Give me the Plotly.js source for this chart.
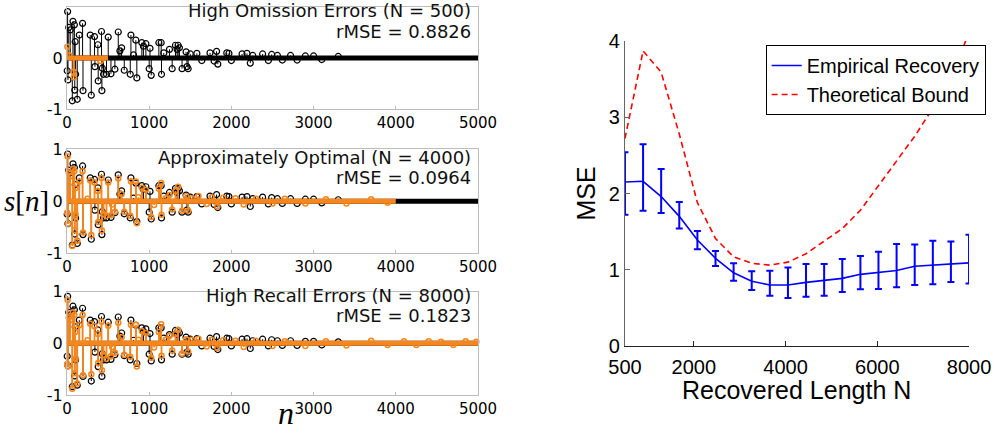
<!DOCTYPE html>
<html>
<head>
<meta charset="utf-8">
<script src="https://cdn.plot.ly/plotly-3.0.1.min.js"></script>
<style>html,body{margin:0;padding:0;background:#fff;}#chart{width:995px;height:433px;}</style>
</head>
<body>
<div id="chart"></div>
<script>
// ---------- Left panels: true sparse signal (black) ----------
const trueN = [3, 8, 12, 22, 40, 65, 73, 90, 95, 100, 105, 125, 150, 190, 195, 283, 296, 335, 340, 376,
  380, 420, 425, 430, 445, 481, 502, 535, 583, 624, 644, 665, 697, 770, 778, 810, 838, 850, 911, 930,
  960, 1000, 1010, 1025, 1118, 1146, 1150, 1178, 1247, 1280, 1320, 1340, 1352, 1368, 1400, 1449, 1460, 1474, 1500, 1580,
  1640, 1740, 1790, 1820, 1835, 1944, 1970, 2000, 2130, 2190, 2230, 2260, 2380, 2450, 2490, 2560, 2620, 2720, 2800, 2900,
  3000, 3100, 3300];
const trueV = [-0.25, 0.91, -0.43, 0.60, 0.55, -0.84, 0.72, 0.65, -0.63, 0.32, -0.32, -0.81, 0.45, 0.68, -0.64, 0.45, -0.73, 0.42, -0.17, 0.26,
  -0.45, 0.52, -0.64, -0.20, -0.32, -0.32, 0.41, -0.31, -0.22, 0.51, 0.14, 0.20, -0.24, -0.32, 0.45, 0.06, 0.35, -0.39, 0.30, 0.23,
  0.28, -0.21, 0.19, -0.34, 0.30, 0.30, -0.32, 0.10, 0.17, -0.21, 0.25, 0.17, 0.25, 0.20, -0.21, 0.12, -0.17, -0.21, 0.08, 0.09,
  -0.05, 0.10, -0.06, 0.13, -0.12, 0.10, 0.09, -0.05, 0.08, 0.09, -0.10, 0.05, 0.08, -0.05, 0.07, 0.05, -0.04, 0.05, -0.04, 0.04,
  0.04, -0.03, 0.03];

// Recovered signals (orange)
const rec1N = [5, 30, 80, 84, 411];
const rec1V = [0.22, 0.05, -0.27, -0.38, -0.06];

const rec2N = [3, 8, 12, 22, 40, 65, 73, 90, 95, 100, 105, 125, 150, 190, 195, 250, 283, 296, 335, 376,
  380, 420, 425, 445, 481, 502, 535, 550, 583, 624, 665, 697, 770, 778, 838, 850, 870, 911, 960, 1025,
  1060, 1118, 1146, 1150, 1200, 1247, 1280, 1320, 1352, 1400, 1449, 1474, 1520, 1600, 1700, 1760, 1830, 1900, 2050, 2150,
  2300, 2500, 2650, 2900, 3150, 3400, 3700, 3900];
const rec2V = [-0.22, 0.86, -0.43, 0.55, 0.48, -0.86, 0.62, 0.58, -0.55, 0.25, -0.25, -0.76, 0.38, 0.58, -0.60, 0.05, 0.40, -0.65, 0.36, 0.20,
  -0.40, 0.45, -0.56, -0.25, -0.28, 0.36, -0.27, -0.06, -0.20, 0.44, 0.14, -0.20, -0.28, 0.38, 0.38, -0.42, 0.08, 0.26, 0.22, -0.30,
  -0.07, 0.24, 0.35, -0.26, 0.06, 0.12, -0.16, 0.20, 0.28, -0.18, 0.10, -0.18, 0.06, 0.10, -0.05, 0.08, -0.10, 0.07, 0.06, -0.06,
  0.05, -0.04, 0.05, -0.04, 0.04, -0.04, 0.04, -0.03];

const rec3N = [3, 8, 12, 22, 40, 65, 73, 90, 95, 100, 105, 125, 150, 190, 195, 250, 283, 296, 335, 376,
  380, 420, 425, 445, 481, 502, 535, 550, 583, 624, 665, 697, 770, 778, 838, 850, 870, 911, 960, 1025,
  1060, 1118, 1146, 1150, 1200, 1247, 1280, 1320, 1352, 1400, 1449, 1474, 1520, 1600, 1700, 1760, 1830, 1900, 2050, 2150,
  2300, 2500, 2650, 2900, 3150, 3400, 3700, 3900, 4100, 4250, 4400, 4550, 4700, 4850, 4980];
const rec3V = [-0.40, 0.84, -0.45, 0.50, 0.45, -0.88, 0.60, 0.55, -0.58, 0.22, -0.30, -0.78, 0.35, 0.55, -0.62, 0.06, 0.38, -0.60, 0.33, 0.18,
  -0.38, 0.42, -0.52, -0.22, -0.30, 0.34, -0.25, -0.07, -0.18, 0.40, 0.12, -0.22, -0.26, 0.36, 0.36, -0.45, 0.07, 0.24, 0.20, -0.28,
  -0.08, 0.22, 0.37, -0.24, 0.07, 0.14, -0.14, 0.18, 0.26, -0.20, 0.08, -0.16, 0.07, 0.09, -0.06, 0.07, -0.09, 0.06, 0.05, -0.07,
  0.05, -0.05, 0.04, -0.05, 0.04, -0.04, 0.05, -0.03, 0.04, -0.03, 0.04, 0.03, -0.03, 0.04, 0.03];

// Lengths: true signal length shown, and recovered lengths N
const signalLength = 5000;
const recoveredLengths = [500, 4000, 8000];
const panelTitles = ["High Omission Errors (N = 500)", "Approximately Optimal (N = 4000)", "High Recall Errors (N = 8000)"];
const panelRMSE = ["rMSE = 0.8826", "rMSE = 0.0964", "rMSE = 0.1823"];
const nTicks = [0, 1000, 2000, 3000, 4000, 5000];

// ---------- Right panel ----------
const lengthsN = [500, 895, 1289, 1684, 2079, 2474, 2868, 3263, 3658, 4053, 4447, 4842, 5237, 5632, 6026, 6421, 6816, 7211, 7605, 8000];
const empMean = [2.15, 2.16, 1.96, 1.70, 1.39, 1.15, 0.96, 0.85, 0.80, 0.80, 0.835, 0.857, 0.887, 0.94, 0.966, 0.99, 1.045, 1.058, 1.07, 1.09];
const empTop  = [2.54, 2.645, 2.32, 1.89, 1.508, 1.246, 1.085, 0.98, 0.988, 1.03, 1.075, 1.075, 1.14, 1.18, 1.237, 1.337, 1.33, 1.38, 1.37, 1.46];
const empBot  = [1.72, 1.775, 1.745, 1.54, 1.27, 1.05, 0.857, 0.734, 0.66, 0.63, 0.647, 0.66, 0.708, 0.743, 0.747, 0.77, 0.80, 0.81, 0.84, 0.82];
const theoBound = [2.72, 3.87, 3.59, 2.78, 1.88, 1.41, 1.17, 1.085, 1.06, 1.10, 1.21, 1.37, 1.54, 1.78, 2.10, 2.42, 2.75, 3.12, 3.55, 4.10];
const rightTicksX = [500, 2000, 4000, 6000, 8000];

// ---------- Build ----------
const BLACK = '#000000';
const ORANGE = '#f7861c';

function stemXY(ns, vs) {
  const x = [], y = [];
  for (let i = 0; i < ns.length; i++) { x.push(ns[i], ns[i], null); y.push(0, vs[i], null); }
  return {x, y};
}

const traces = [];
const recSets = [[rec1N, rec1V], [rec2N, rec2V], [rec3N, rec3V]];
for (let p = 0; p < 3; p++) {
  const xa = p === 0 ? 'x' : 'x' + (p + 1);
  const ya = p === 0 ? 'y' : 'y' + (p + 1);
  const s = stemXY(trueN, trueV);
  traces.push({x: s.x, y: s.y, xaxis: xa, yaxis: ya, mode: 'lines', line: {color: BLACK, width: 1}, showlegend: false, hoverinfo: 'skip'});
  traces.push({x: [0, signalLength], y: [0, 0], xaxis: xa, yaxis: ya, mode: 'lines', line: {color: BLACK, width: 5}, showlegend: false, hoverinfo: 'skip'});
  traces.push({x: trueN, y: trueV, xaxis: xa, yaxis: ya, mode: 'markers', cliponaxis: false,
    marker: {symbol: 'circle-open', size: 6, color: BLACK, line: {width: 1.2}}, showlegend: false});
  const rN = recSets[p][0], rV = recSets[p][1];
  const r = stemXY(rN, rV);
  const recEnd = Math.min(recoveredLengths[p], signalLength);
  traces.push({x: [0, recEnd], y: [0, 0], xaxis: xa, yaxis: ya, mode: 'lines', line: {color: ORANGE, width: 5}, showlegend: false, hoverinfo: 'skip'});
  traces.push({x: r.x, y: r.y, xaxis: xa, yaxis: ya, mode: 'lines', line: {color: ORANGE, width: 1.8}, showlegend: false, hoverinfo: 'skip'});
  traces.push({x: rN, y: rV, xaxis: xa, yaxis: ya, mode: 'markers', cliponaxis: false,
    marker: {symbol: 'circle-open', size: 5, color: ORANGE, line: {width: 1.5}}, showlegend: false});
}

const errPlus = empTop.map((t, i) => t - empMean[i]);
const errMinus = empBot.map((b, i) => empMean[i] - b);
traces.push({x: lengthsN, y: empMean, xaxis: 'x4', yaxis: 'y4', mode: 'lines', name: 'Empirical Recovery',
  line: {color: '#0000ff', width: 1.6},
  error_y: {type: 'data', symmetric: false, array: errPlus, arrayminus: errMinus, color: '#0000ff', thickness: 2, width: 3.5}});
traces.push({x: lengthsN, y: theoBound, xaxis: 'x4', yaxis: 'y4', mode: 'lines', name: 'Theoretical Bound',
  line: {color: '#ff0000', width: 1.6, dash: '6px,4px'}});

const leftFont = {family: 'DejaVu Sans', size: 15, color: '#000'};
function leftX(anchor) {
  return {domain: [0.0673, 0.4804], anchor: anchor, range: [0, signalLength], tickvals: nTicks,
    showline: true, mirror: true, linecolor: '#bdbdbd', linewidth: 1, ticks: 'inside', ticklen: 3, tickcolor: '#bdbdbd',
    showgrid: false, zeroline: false, tickfont: leftFont};
}
function leftY(dom, anchor) {
  return {domain: dom, anchor: anchor, range: [-1, 1], tickvals: [-1, 0, 1], ticktext: ['-1', '0', '1'],
    showline: true, mirror: true, linecolor: '#bdbdbd', linewidth: 1, ticks: '', showgrid: false, zeroline: false,
    tickfont: {family: 'DejaVu Sans', size: 16, color: '#000'}};
}
const rightFont = {family: 'Liberation Sans', size: 20, color: '#000'};

const annotations = [];
const lineOffsets = [[0.9746, 0.9284], [0.6374, 0.5912], [0.3164, 0.2725]];
for (let p = 0; p < 3; p++) {
  annotations.push({xref: 'paper', yref: 'paper', x: 0.4754, y: lineOffsets[p][0], xanchor: 'right', yanchor: 'middle',
    text: panelTitles[p], showarrow: false, font: {family: 'DejaVu Sans', size: 18, color: '#111'}});
  annotations.push({xref: 'paper', yref: 'paper', x: 0.4754, y: lineOffsets[p][1], xanchor: 'right', yanchor: 'middle',
    text: panelRMSE[p], showarrow: false, font: {family: 'DejaVu Sans', size: 18, color: '#111'}});
}
annotations.push({xref: 'paper', yref: 'paper', x: 0.027, y: 0.535, xanchor: 'center', yanchor: 'middle',
  text: '<i>s</i>[<i>n</i>]', showarrow: false, font: {family: 'Liberation Serif', size: 29, color: '#000'}});
annotations.push({xref: 'paper', yref: 'paper', x: 0.287, y: 0.0, xanchor: 'center', yanchor: 'bottom',
  text: '<i>n</i>', showarrow: false, font: {family: 'Liberation Serif', size: 32, color: '#000'}});
annotations.push({xref: 'paper', yref: 'paper', x: 0.8010, y: 0.099, xanchor: 'center', yanchor: 'middle',
  text: 'Recovered Length N', showarrow: false, font: {family: 'Liberation Sans', size: 25, color: '#000'}});

const layout = {
  width: 995, height: 433,
  margin: {l: 0, r: 0, t: 0, b: 0},
  paper_bgcolor: '#fff', plot_bgcolor: '#fff',
  showlegend: true,
  xaxis: leftX('y'), yaxis: leftY([0.7483, 0.9838], 'x'),
  xaxis2: leftX('y2'), yaxis2: leftY([0.415, 0.6552], 'x2'),
  xaxis3: leftX('y3'), yaxis3: leftY([0.0878, 0.3263], 'x3'),
  xaxis4: {domain: [0.6281, 0.9739], anchor: 'y4', range: [500, 8000], tickvals: rightTicksX,
    showline: true, linecolor: '#222', ticks: 'inside', ticklen: 5, tickcolor: '#222', showgrid: false, zeroline: false,
    ticklabelstandoff: 3, tickfont: rightFont},
  yaxis4: {domain: [0.2009, 0.9053], anchor: 'x4', range: [0, 4], tickvals: [0, 1, 2, 3, 4],
    showline: true, linecolor: '#666', ticks: 'inside', ticklen: 5, tickcolor: '#666', showgrid: false, zeroline: false,
    tickfont: rightFont, title: {text: 'MSE', font: {family: 'Liberation Sans', size: 25, color: '#000'}, standoff: 6}},
  legend: {x: 0.7695, y: 0.896, xanchor: 'left', yanchor: 'top', bgcolor: '#fff', bordercolor: '#000', borderwidth: 1,
    font: {family: 'Liberation Sans', size: 20, color: '#000'}, tracegroupgap: 0},
  annotations: annotations
};

Plotly.newPlot('chart', traces, layout, {displayModeBar: false, staticPlot: true});
</script>
</body>
</html>
